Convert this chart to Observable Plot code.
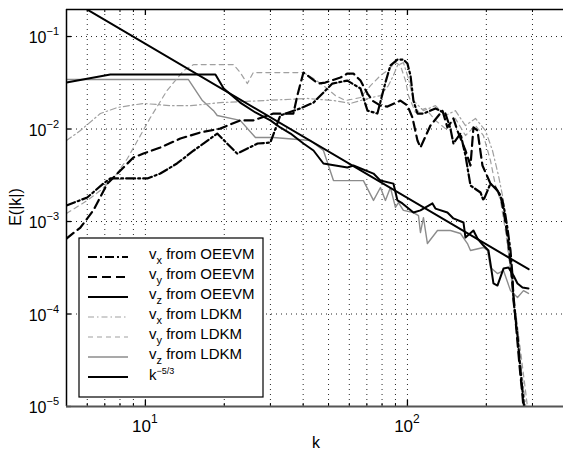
<!DOCTYPE html>
<html><head><meta charset="utf-8">
<script src="https://cdn.jsdelivr.net/npm/d3@7"></script>
<script src="https://cdn.jsdelivr.net/npm/@observablehq/plot@0.6"></script>
<style>
html,body{margin:0;padding:0;background:#fff;overflow:hidden}
#chart{width:563px;height:452px;position:relative}
svg text{font-family:"Liberation Sans",Arial,Helvetica,sans-serif}
</style></head><body><div id="chart"></div>
<script>
// ---- data: [k, E(|k|)] ----
const vxOEEVM = [[5.0,0.00149],[6.0,0.00182],[6.91,0.00257],[7.35,0.00292],[8.54,0.00292],[10.18,0.00292],[11.4,0.0033],[13.2,0.00424],[15.3,0.00586],[18.8,0.00894],[22.4,0.00543],[26.8,0.00697],[30.0,0.00714],[32.7,0.014],[39.0,0.0167],[43.8,0.0193],[47.8,0.0248],[51.7,0.031],[59.0,0.0334],[66.2,0.0274],[70.4,0.0158],[76.8,0.0147],[82.4,0.0318],[86.1,0.0486],[91.6,0.0564],[96.5,0.0564],[100,0.0511],[102.7,0.0379],[105.4,0.0203],[109.2,0.0147],[115.1,0.0147],[127.9,0.0167],[139.6,0.0147],[145.9,0.0101],[149.8,0.00697],[159.4,0.00894],[166.5,0.00517],[174.0,0.00245],[190.0,0.00206],[195.0,0.00169],[207.4,0.00257],[220.5,0.00216],[230.5,0.00169],[236.6,0.00116],[240.8,0.00084],[247.3,0.000486],[251.6,0.000261],[253.9,0.00014],[263.0,5.86e-5],[270.0,2.45e-5],[277.2,1.16e-5],[282.1,7.06e-6]];
const vyOEEVM = [[5.0,0.000655],[5.65,0.000861],[6.33,0.00132],[7.16,0.00257],[7.82,0.0033],[9.0,0.00492],[9.83,0.00543],[11.4,0.00631],[13.6,0.00789],[16.2,0.00917],[19.3,0.0101],[23.0,0.0124],[25.8,0.0124],[30.8,0.0147],[36.7,0.0147],[38.0,0.023],[40.1,0.0408],[42.6,0.036],[45.7,0.031],[48.6,0.0318],[55.5,0.036],[59.0,0.0398],[62.2,0.0398],[66.2,0.0334],[70.4,0.0242],[73.5,0.0203],[78.9,0.0179],[83.9,0.0175],[94.0,0.0203],[100,0.0179],[104.5,0.0133],[109.2,0.00751],[112.1,0.00631],[122.4,0.0109],[136.0,0.0158],[142.1,0.0104],[149.8,0.013],[155.1,0.00963],[166.5,0.00586],[174.0,0.00403],[178.6,0.0104],[185.0,0.00963],[193.3,0.00403],[207.4,0.00257],[216.7,0.00233],[226.5,0.00191],[232.5,0.00132],[240.8,0.000706],[247.3,0.00036],[253.9,0.000158],[260.6,6.63e-5],[267.7,2.77e-5],[274.8,1.31e-5],[279.6,7.06e-6]];
const vzOEEVM = [[5.0,0.0318],[7.35,0.0388],[18.5,0.0388],[19.9,0.0274],[23.0,0.0193],[26.3,0.0151],[30.0,0.0124],[32.7,0.0104],[35.8,0.00894],[40.1,0.00697],[43.8,0.00586],[47.8,0.00424],[59.0,0.00384],[62.2,0.00403],[74.2,0.0033],[78.9,0.00277],[88.4,0.00257],[91.6,0.00169],[95.7,0.00157],[105.4,0.00125],[112.1,0.00132],[124.6,0.00157],[127.9,0.00138],[142.1,0.00125],[149.8,0.00108],[163.6,0.000976],[166.5,0.000671],[178.6,0.000799],[185.0,0.000655],[195.0,0.00055],[203.8,0.000486],[207.4,0.000352],[212.9,0.000214],[220.5,0.000203],[232.5,0.00031],[242.9,0.000318],[253.9,0.000261],[263.0,0.000214],[274.8,0.000193],[289.6,0.000189]];
const vxLDKM = [[5.0,0.00751],[5.65,0.00963],[6.73,0.0147],[7.82,0.0171],[9.83,0.0189],[12.5,0.0179],[14.9,0.0179],[19.3,0.0193],[28.2,0.0203],[41.5,0.0214],[52.2,0.0203],[60.6,0.0189],[70.4,0.0214],[78.9,0.023],[84.6,0.0295],[88.4,0.0379],[91.6,0.0486],[96.5,0.0523],[100.9,0.0352],[105.4,0.0203],[115.1,0.0158],[127.9,0.0179],[139.6,0.014],[152.4,0.0158],[166.5,0.0109],[181.8,0.013],[198.5,0.00963],[211.1,0.00586],[222.5,0.00314],[232.5,0.00169],[240.8,0.000623],[247.3,0.000295],[253.9,0.00014],[263.0,6.63e-5],[270.0,3.14e-5],[279.6,1.31e-5],[287.1,7.06e-6]];
const vyLDKM = [[5.0,0.00122],[6.0,0.00169],[6.73,0.00216],[7.55,0.00292],[8.54,0.0048],[9.57,0.00851],[10.45,0.0133],[12.1,0.0261],[14.0,0.0429],[15.3,0.0498],[21.7,0.0498],[23.0,0.0408],[24.5,0.031],[25.8,0.0408],[40.1,0.0408],[43.8,0.0352],[47.8,0.0295],[53.1,0.023],[58.0,0.0203],[66.2,0.0219],[72.3,0.0295],[78.9,0.0379],[83.9,0.0429],[90.0,0.0523],[94.0,0.0486],[98.3,0.0334],[100.9,0.023],[107.3,0.0151],[117.2,0.0167],[127.9,0.0124],[139.6,0.0101],[152.4,0.013],[166.5,0.00851],[181.8,0.0109],[195.0,0.00851],[207.4,0.00457],[216.7,0.00245],[226.5,0.00169],[236.6,0.000799],[247.3,0.000295],[258.4,0.000109],[270.0,4.03e-5],[282.1,1.49e-5],[289.6,8.0e-6]];
const vzLDKM = [[5.0,0.0343],[7.35,0.0343],[14.6,0.0343],[16.5,0.0203],[18.2,0.0158],[18.8,0.014],[23.0,0.0124],[26.3,0.00809],[30.8,0.00809],[42.6,0.00751],[47.8,0.00586],[52.2,0.00277],[67.9,0.00277],[74.2,0.00169],[78.9,0.00233],[82.4,0.00169],[86.1,0.00233],[90.0,0.00142],[92.4,0.0016],[96.5,0.00132],[105.4,0.00125],[110.2,0.00116],[112.1,0.00076],[115.1,0.0011],[119.2,0.000578],[130.2,0.000799],[145.9,0.000799],[159.4,0.000742],[169.4,0.000578],[174.0,0.000486],[195.0,0.000523],[202.0,0.000486],[207.4,0.000318],[220.5,0.000274],[232.5,0.000295],[247.3,0.000179],[263.0,0.000151],[277.2,0.000179],[289.6,0.000167]];
const kPower = [[5,0.265],[290,3.05e-4]];

const xGridTicks = [6,7,8,9,10,20,30,40,50,60,70,80,90,100,200,300];
const xMajorTicks = [10,100];
const xTickLabels = [{v:10,base:"10",exp:"1"},{v:100,base:"10",exp:"2"}];
const yMajorTicks = [1e-5,1e-4,1e-3,1e-2,1e-1];
const yTickLabels = [{v:1e-1,exp:"-1"},{v:1e-2,exp:"-2"},{v:1e-3,exp:"-3"},{v:1e-4,exp:"-4"},{v:1e-5,exp:"-5"}];
const legendNames = ["vx OEEVM","vy OEEVM","vz OEEVM","vx LDKM","vy LDKM","vz LDKM","k"];
const legendMain = ["v","v","v","v","v","v","k"];
const legendSub = ["x","y","z","x","y","z",""];
const legendSup = ["","","","","","","-5/3"];
const legendRest = [" from OEEVM"," from OEEVM"," from OEEVM"," from LDKM"," from LDKM"," from LDKM",""];

// ---- styles ----
const styles = {
  "vx OEEVM": {stroke:"#000", w:2.2, dash:"9,3,2,3"},
  "vy OEEVM": {stroke:"#000", w:2.2, dash:"9,5"},
  "vz OEEVM": {stroke:"#000", w:2, dash:null},
  "vx LDKM": {stroke:"#a0a0a0", w:1.2, dash:"6,3,1.5,3"},
  "vy LDKM": {stroke:"#a0a0a0", w:1.2, dash:"5,4"},
  "vz LDKM": {stroke:"#8c8c8c", w:1.4, dash:null},
  "k": {stroke:"#000", w:2, dash:null}
};
const seriesData = {"vx OEEVM":vxOEEVM,"vy OEEVM":vyOEEVM,"vz OEEVM":vzOEEVM,"vx LDKM":vxLDKM,"vy LDKM":vyLDKM,"vz LDKM":vzLDKM,"k":kPower};

const W=563, H=452, mL=66, mT=9, mB=46, mR=0;
const frameW = W-mL-mR, frameH = H-mT-mB;

function lineMark(name){
  const s = styles[name];
  return Plot.line(seriesData[name], {x:d=>d[0], y:d=>d[1], stroke:s.stroke, strokeWidth:s.w,
    strokeDasharray:s.dash||undefined, clip:true, strokeLinejoin:"round"});
}

const gridStyle = {stroke:"#000", strokeOpacity:0.85, strokeWidth:1, strokeDasharray:"1,4"};
const plot = Plot.plot({
  width:W, height:H, marginLeft:mL, marginTop:mT, marginBottom:mB, marginRight:mR,
  x:{type:"log", domain:[5,394], axis:null},
  y:{type:"log", domain:[1e-5,0.196], axis:null},
  style:{background:"#fff"},
  marks:[
    Plot.ruleX(xGridTicks, gridStyle),
    Plot.ruleY(yMajorTicks.filter(v=>v>1e-5), gridStyle),
    Plot.ruleX(xGridTicks.filter(v=>!xMajorTicks.includes(v)), {stroke:"#000", insetTop:frameH-3}),
    Plot.ruleX(xGridTicks.filter(v=>!xMajorTicks.includes(v)), {stroke:"#000", insetBottom:frameH-3}),
    Plot.ruleX(xMajorTicks, {stroke:"#000", strokeWidth:1.3, insetTop:frameH-6}),
    Plot.ruleX(xMajorTicks, {stroke:"#000", strokeWidth:1.3, insetBottom:frameH-6}),
    Plot.ruleY(yMajorTicks, {stroke:"#000", strokeWidth:1.3, insetRight:frameW-5}),
    lineMark("vz LDKM"),
    lineMark("vy LDKM"),
    lineMark("vx LDKM"),
    lineMark("vy OEEVM"),
    lineMark("vx OEEVM"),
    lineMark("vz OEEVM"),
    lineMark("k"),
    Plot.ruleX([5], {stroke:"#000", strokeWidth:1.5}),
    Plot.ruleY([0.196], {stroke:"#000", strokeWidth:1.5}),
    Plot.ruleY([1e-5], {stroke:"#555", strokeWidth:2})
  ]
});

const svg = d3.select(plot);
const xs = plot.scale("x"), ys = plot.scale("y");

yTickLabels.forEach(t=>{
  const y = ys.apply(t.v);
  const tx = svg.append("text").attr("x",59).attr("y",y+7).attr("text-anchor","end")
    .attr("fill","#000").style("font-size","16px");
  tx.append("tspan").text("10");
  tx.append("tspan").attr("dy",-8).style("font-size","11px").text(t.exp.replace("-","\u2212"));
});
xTickLabels.forEach(t=>{
  const x = xs.apply(t.v);
  const tx = svg.append("text").attr("x",x).attr("y",432).attr("text-anchor","middle")
    .attr("fill","#000").style("font-size","17px");
  tx.append("tspan").text(t.base);
  tx.append("tspan").attr("dy",-9).style("font-size","12px").text(t.exp);
});
svg.append("text").attr("x",316).attr("y",448).attr("text-anchor","middle")
  .style("font-size","16px").attr("fill","#000").text("k");
svg.append("text").attr("transform","translate(21,207) rotate(-90)").attr("text-anchor","middle")
  .style("font-size","16px").attr("fill","#000").text("E(|k|)");

const lg = svg.append("g");
lg.append("rect").attr("x",79).attr("y",238).attr("width",184).attr("height",159)
  .attr("fill","#fff").attr("stroke","#000").attr("stroke-width",1.2);
legendNames.forEach((n,i)=>{
  const s = styles[n];
  const y = 257 + i*20;
  lg.append("line").attr("x1",88).attr("x2",128).attr("y1",y).attr("y2",y)
    .attr("stroke",s.stroke).attr("stroke-width",s.w).attr("stroke-dasharray",s.dash||null);
  const tx = lg.append("text").attr("x",149).attr("y",y+(legendSup[i]?3:2)).attr("text-anchor","start")
    .attr("fill","#000").style("font-size","15px");
  tx.append("tspan").text(legendMain[i]);
  if (legendSub[i]) tx.append("tspan").attr("dy",5).style("font-size","11px").text(legendSub[i]);
  if (legendSup[i]) tx.append("tspan").attr("dy",-6).style("font-size","9px").text(legendSup[i].replace("-","\u2212"));
  if (legendRest[i]) tx.append("tspan").attr("dy",legendSub[i]?-5:0).text(legendRest[i]);
});

document.getElementById("chart").appendChild(plot);
</script></body></html>
